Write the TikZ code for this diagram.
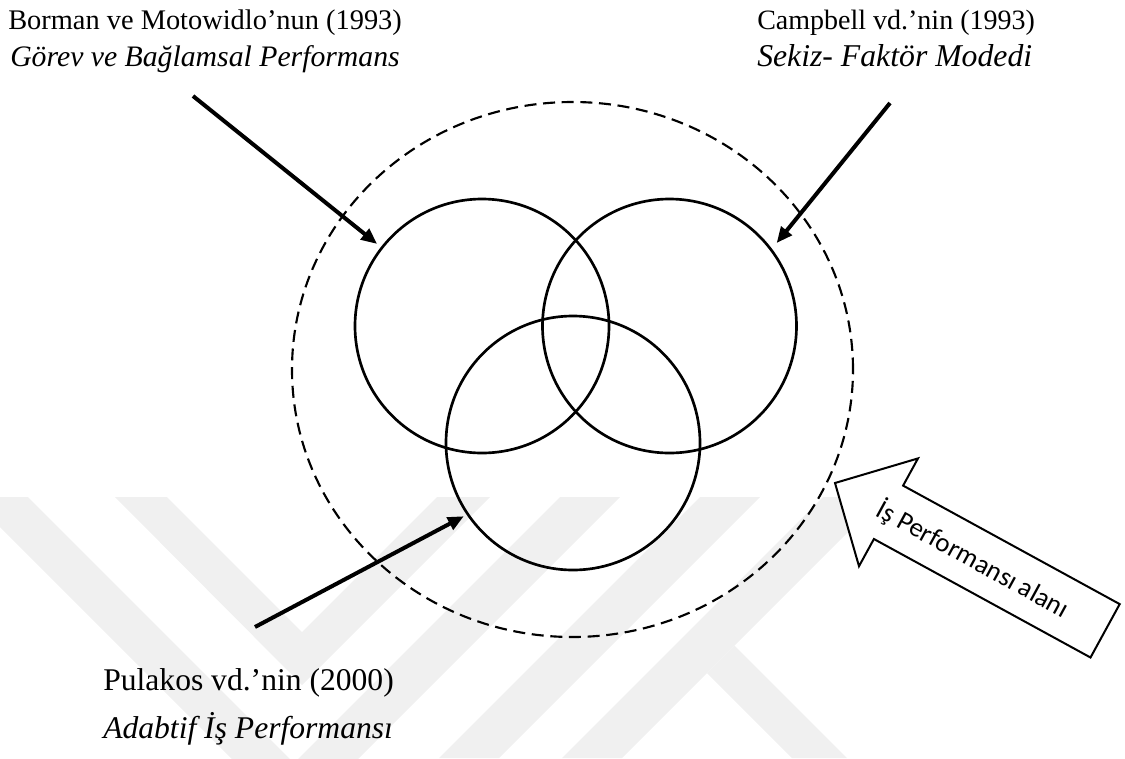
\documentclass[tikz,border=0pt]{standalone}
\usepackage{fontspec}
\setmainfont{Liberation Serif}
\newfontfamily\calibrifont{Carlito}
\usetikzlibrary{arrows.meta,shapes.geometric}

\begin{document}
\begin{tikzpicture}[x=0.75pt,y=-0.75pt,
  venn/.style={circle, draw, line width=2pt, minimum size=190.5pt, inner sep=0pt},
  perfarea/.style={ellipse, draw, line width=1.6pt, dash pattern=on 9pt off 5pt,
    minimum width=420.75pt, minimum height=401.25pt, inner sep=0pt},
  reftext/.style={anchor=base west, inner sep=0pt},
  pointer/.style={line width=3pt, -{Triangle[length=12pt,width=10pt]}},
  wmark/.style={fill=black!6, draw=none},
  blockarrow/.style={draw, line width=1.5pt, fill=white, line join=miter}]

\useasboundingbox (0,0) rectangle (1125,758);

% faint background emblem
\begin{scope}
  \clip (0,0) rectangle (1125,758);
  \fill[wmark] (115,497) -- (167,497) -- (302,632) -- (437,497) -- (490,497) -- (302,685) -- cycle;
  \fill[wmark] (-30,497) -- (28,497) -- (294,763) -- (560,497) -- (620,497) -- (295,822) -- cycle;
  \fill[wmark] (700,497) -- (760,497) -- (499,758) -- (439,758) -- cycle;
  \fill[wmark] (823,497) -- (883,497) -- (622,758) -- (562,758) -- cycle;
  \fill[wmark] (707,673) -- (734.5,645.5) -- (847,758) -- (792,758) -- cycle;
\end{scope}

% performance domain and the three models
\node[perfarea] (area) at (572.5,369.5) {};
\node[venn] (lc) at (482,326) {};
\node[venn] (rc) at (669.5,326) {};
\node[venn] (bc) at (573,443) {};

% model labels
\node[reftext, font=\fontsize{21.3pt}{26pt}\selectfont] (borman) at (8,29) {Borman ve Motowidlo’nun (1993)};
\node[reftext, font=\fontsize{22.3pt}{27pt}\selectfont\itshape] (gorev) at (10,66) {Görev ve Bağlamsal Performans};
\node[reftext, font=\fontsize{21pt}{26pt}\selectfont] (campbell) at (757,29) {Campbell vd.’nin (1993)};
\node[reftext, font=\fontsize{23.8pt}{28pt}\selectfont\itshape] (sekiz) at (757,66) {Sekiz- Faktör Modedi};
\node[reftext, font=\fontsize{23.7pt}{28pt}\selectfont] (pulakos) at (103,690) {Pulakos vd.’nin (2000)};
\node[reftext, font=\fontsize{23.7pt}{28pt}\selectfont\itshape] (adabtif) at (103,738) {Adabtif İş Performansı};

% pointers from labels to circles
\coordinate (ltail) at (193,96);
\coordinate (rtail) at (890,103);
\coordinate (btail) at (255,627);
\draw[pointer, shorten >=3.6pt] (ltail) -- (lc.142.1);
\draw[pointer, shorten >=5.5pt] (rtail) -- (rc.37.6);
\draw[pointer, shorten >=2.3pt] (btail) -- (bc.214.7);

% block arrow naming the domain
\draw[blockarrow] (835,483) -- (918,458.4) -- (903.1,485.6) -- (1119.7,604.1)
  -- (1090.5,657.5) -- (873.9,539) -- (859,566.2) -- cycle;
\node[rotate=-28.7, inner sep=0pt, font=\calibrifont\fontsize{20.17pt}{24pt}\selectfont]
  (alan) at (973,559) {İş Performansı alanı};
\end{tikzpicture}
\end{document}
